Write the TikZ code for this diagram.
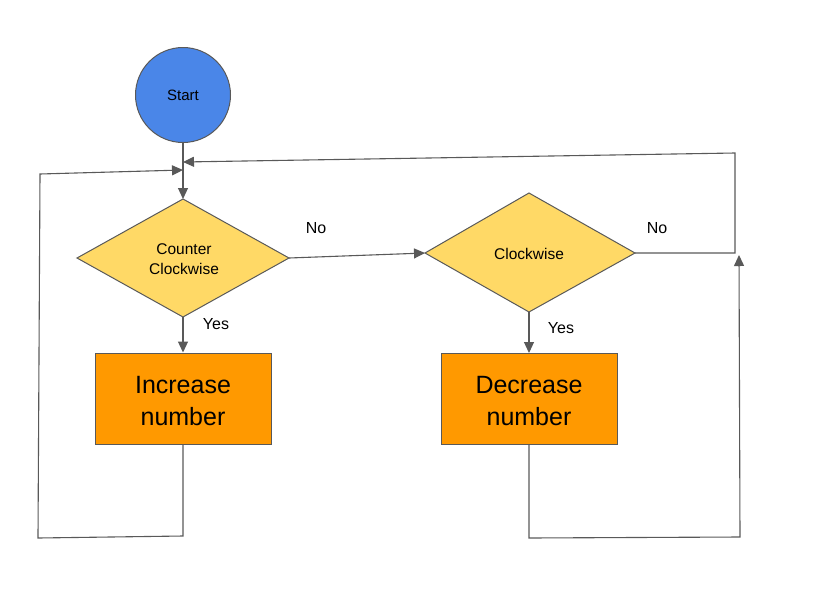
\documentclass[tikz,border=0pt]{standalone}
\usepackage{fontspec}
\setmainfont{Liberation Sans}
\usetikzlibrary{shapes.geometric,arrows.meta}
\definecolor{lineg}{HTML}{595959}
\definecolor{startblue}{HTML}{4A86E8}
\definecolor{decyel}{HTML}{FFD966}
\definecolor{procor}{HTML}{FF9900}
\begin{document}
\begin{tikzpicture}[x=1pt,y=-1pt,
  conn/.style={draw=lineg,line width=1.1pt},
  arr/.style={conn,-{Triangle[length=11pt,width=10pt]}},
  startnode/.style={circle,draw=lineg,line width=1pt,fill=startblue,minimum size=95pt,inner sep=0pt,font=\fontsize{15}{18}\selectfont},
  decnode/.style={draw=lineg,line width=1pt,fill=decyel},
  dectext/.style={font=\fontsize{15.5}{19.5}\selectfont,align=center,inner sep=0pt},
  procnode/.style={draw=lineg,line width=1pt,fill=procor,minimum width=176pt,minimum height=91pt,inner sep=0pt},
  proctext/.style={font=\fontsize{25}{32}\selectfont,align=center,inner sep=0pt},
  lbl/.style={font=\fontsize{16}{19}\selectfont,inner sep=0pt}]
\useasboundingbox (0,0) rectangle (814,611);
\node[startnode] (start) at (183,95) {Start};
\path[decnode] (77,258) -- (183,199) -- (289,258) -- (183,317) -- cycle;
\node[dectext] (d1) at (184,259) {Counter\\Clockwise};
\coordinate (d1t) at (183,199);
\coordinate (d1b) at (183,317);
\coordinate (d1r) at (289,258);
\path[decnode] (425,253) -- (529,193) -- (635,253) -- (529,312) -- cycle;
\node[dectext] (d2) at (529,254) {Clockwise};
\coordinate (d2l) at (425,253);
\coordinate (d2b) at (529,312);
\coordinate (d2r) at (635,253);
\node[procnode] (p1) at (183,398.5) {};
\node[proctext] (t1) at (183,401) {Increase\\number};
\node[procnode] (p2) at (529,399) {};
\node[proctext] (t2) at (529,401) {Decrease\\number};
\coordinate (m1) at (183,170);
\coordinate (m2) at (183,162);
\coordinate (a1) at (183,536);
\coordinate (a2) at (38,538);
\coordinate (a3) at (40,174);
\coordinate (b1) at (529,538);
\coordinate (b2) at (740,537);
\coordinate (b3) at (739,255);
\coordinate (c1) at (735,253);
\coordinate (c2) at (735,153);
\draw[arr] (start.south) -- (d1t);
\draw[arr] (d1b) -- (p1.north);
\draw[arr] (d2b) -- (p2.north);
\draw[arr] (d1r) -- (d2l);
\draw[arr] (p1.south) -- (a1) -- (a2) -- (a3) -- (m1);
\draw[arr] (p2.south) -- (b1) -- (b2) -- (b3);
\draw[arr] (d2r) -- (c1) -- (c2) -- (m2);
\node[lbl] (no1) at (316,228) {No};
\node[lbl] (no2) at (657,228) {No};
\node[lbl] (yes1) at (216,324) {Yes};
\node[lbl] (yes2) at (561,328) {Yes};
\end{tikzpicture}
\end{document}
